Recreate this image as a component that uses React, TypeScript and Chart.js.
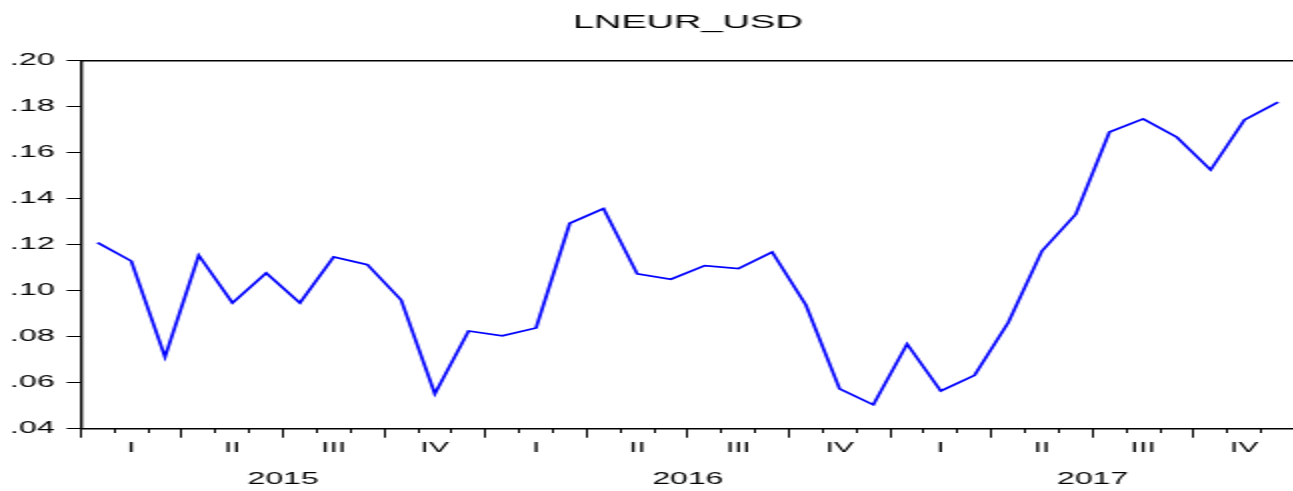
import React, { useEffect, useRef } from 'react';
import { Chart, registerables } from 'chart.js';

Chart.register(...registerables);

const TITLE = 'LNEUR_USD';

const months = [
  '2015M01', '2015M02', '2015M03', '2015M04', '2015M05', '2015M06',
  '2015M07', '2015M08', '2015M09', '2015M10', '2015M11', '2015M12',
  '2016M01', '2016M02', '2016M03', '2016M04', '2016M05', '2016M06',
  '2016M07', '2016M08', '2016M09', '2016M10', '2016M11', '2016M12',
  '2017M01', '2017M02', '2017M03', '2017M04', '2017M05', '2017M06',
  '2017M07', '2017M08', '2017M09', '2017M10', '2017M11', '2017M12',
];

const lneurUsd = [
  0.1209, 0.1129, 0.0712, 0.1154, 0.0947, 0.1077,
  0.0947, 0.1147, 0.1113, 0.0960, 0.0552, 0.0825,
  0.0804, 0.0838, 0.1293, 0.1357, 0.1073, 0.1050,
  0.1109, 0.1096, 0.1168, 0.0938, 0.0573, 0.0504,
  0.0768, 0.0564, 0.0632, 0.0862, 0.1173, 0.1332,
  0.1690, 0.1747, 0.1667, 0.1525, 0.1742, 0.1820,
];

const yTickValues = [0.04, 0.06, 0.08, 0.10, 0.12, 0.14, 0.16, 0.18, 0.20];
const yTickLabels = ['.04', '.06', '.08', '.10', '.12', '.14', '.16', '.18', '.20'];
const quarterLabels = ['I', 'II', 'III', 'IV'];
const yearLabels = ['2015', '2016', '2017'];

const FONT = 'Liberation Sans';
const CANVAS_W = 649;
const CANVAS_H = 491;
const STRETCH = 2;

export default function App() {
  const ref = useRef<HTMLCanvasElement>(null);

  useEffect(() => {
    const canvas = ref.current;
    if (!canvas) return;
    const nMonths = months.length;
    const chart = new Chart(canvas, {
      type: 'line',
      data: {
        datasets: [
          {
            label: TITLE,
            data: months.map((m, i) => ({ x: i + 0.5, y: lneurUsd[i] })),
            borderColor: '#0000ff',
            borderWidth: 1.7,
            pointRadius: 0,
            tension: 0,
            fill: false,
            xAxisID: 'x',
            yAxisID: 'y',
          },
        ],
      },
      options: {
        responsive: false,
        devicePixelRatio: 1,
        animation: false,
        events: [],
        layout: { padding: { left: 0, right: 0, top: 0, bottom: 0 } },
        plugins: {
          legend: { display: false },
          tooltip: { enabled: false },
          title: {
            display: true,
            text: TITLE,
            fullSize: false,
            color: '#000',
            font: { family: FONT, size: 19, weight: 'normal', lineHeight: 1.2 },
            padding: { top: 11.1, bottom: 26.8 },
          },
        },
        scales: {
          x: {
            type: 'linear',
            position: 'bottom',
            min: 0,
            max: nMonths,
            afterBuildTicks: (s: any) => {
              const t = [];
              for (let k = 0; k <= nMonths * 2; k++) t.push({ value: k / 2 });
              s.ticks = t;
            },
            afterFit: (s: any) => {
              s.height = 62.3;
            },
            grid: {
              drawOnChartArea: false,
              drawTicks: true,
              tickLength: 9,
              tickWidth: 1,
              tickColor: (c: any) =>
                c.tick && c.tick.value % 3 === 0 ? '#000' : 'rgba(0,0,0,0)',
            },
            border: { display: true, color: '#000', width: 1.4 },
            ticks: {
              autoSkip: false,
              maxRotation: 0,
              minRotation: 0,
              padding: 1.5,
              color: '#000',
              font: (c: any) =>
                c.tick && c.tick.value % 12 === 6
                  ? { family: FONT, size: 16, lineHeight: 1.68 }
                  : { family: FONT, size: 15, lineHeight: 1.2 },
              callback: (v: any) => {
                const val = Number(v);
                if (val % 12 === 6) {
                  return ['', yearLabels[(val - 6) / 12]];
                }
                const q = (val - 1.5) / 3;
                if (Number.isInteger(q)) return quarterLabels[q % 4];
                return '';
              },
            },
          },
          xMinor: {
            type: 'linear',
            axis: 'x',
            position: { y: 0.04 },
            min: 0,
            max: nMonths,
            afterBuildTicks: (s: any) => {
              const t = [];
              for (let k = 0; k <= nMonths; k++) t.push({ value: k });
              s.ticks = t;
            },
            grid: {
              drawOnChartArea: false,
              drawTicks: true,
              tickLength: 4,
              tickWidth: 1,
              tickColor: '#000',
            },
            border: { display: false },
            ticks: { display: false },
          },
          xTop: {
            type: 'linear',
            axis: 'x',
            position: 'top',
            min: 0,
            max: nMonths,
            grid: { display: false, drawTicks: false, drawOnChartArea: false },
            border: { display: true, color: '#000', width: 1.4 },
            ticks: { display: false },
          },
          y: {
            type: 'linear',
            position: 'left',
            min: 0.04,
            max: 0.2,
            afterBuildTicks: (s: any) => {
              s.ticks = yTickValues.map((v) => ({ value: v }));
            },
            afterFit: (s: any) => {
              s.width = 40.35;
            },
            grid: {
              drawOnChartArea: false,
              drawTicks: true,
              tickLength: 7,
              tickWidth: 1,
              tickColor: '#000',
            },
            border: { display: true, color: '#000', width: 1.4 },
            ticks: {
              padding: 6,
              color: '#000',
              font: { family: FONT, size: 16 },
              callback: (v: any, i: number) => yTickLabels[i],
            },
          },
        },
      } as any,
    });
    return () => chart.destroy();
  }, []);

  return (
    <div
      style={{
        position: 'absolute',
        left: 0,
        top: 0,
        width: 1293,
        height: 491,
        overflow: 'hidden',
        background: '#fff',
      }}
    >
      <canvas
        ref={ref}
        width={CANVAS_W}
        height={CANVAS_H}
        style={{ display: 'block', width: `${CANVAS_W * STRETCH}px`, height: `${CANVAS_H}px` }}
      />
    </div>
  );
}
